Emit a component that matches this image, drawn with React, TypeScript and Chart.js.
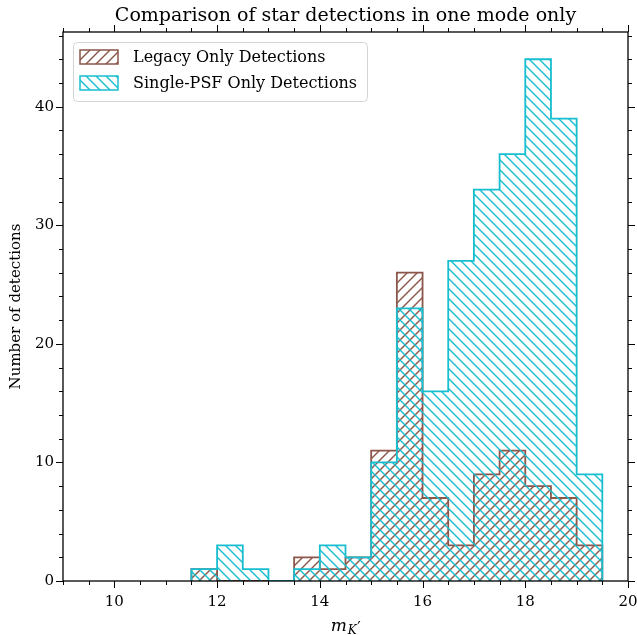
import React, { useEffect, useRef } from "react";
import { Chart, registerables } from "chart.js";

Chart.register(...registerables);

// ---- data ----
const binEdges = [11.5, 12, 12.5, 13, 13.5, 14, 14.5, 15, 15.5, 16, 16.5, 17, 17.5, 18, 18.5, 19, 19.5];
const legacyCounts = [1, 0, 0, 0, 2, 1, 2, 11, 26, 7, 3, 9, 11, 8, 7, 3];
const singlePsfCounts = [1, 3, 1, 0, 1, 3, 2, 10, 23, 16, 27, 33, 36, 44, 39, 9];
const seriesLabels = ["Legacy Only Detections", "Single-PSF Only Detections"];
const xTickLabels = [10, 12, 14, 16, 18, 20];
const yTickLabels = [0, 10, 20, 30, 40];
const titleText = "Comparison of star detections in one mode only";
const yAxisTitle = "Number of detections";
const xAxisMain = "m";
const xAxisSub = "K";
const xAxisPrime = "\u2032";

const BROWN = "#8c564b";
const CYAN = "#17becf";
const FONT = '"DejaVu Serif", "Liberation Serif", serif';

function stepPoints(edges: number[], counts: number[]) {
  const pts: { x: number; y: number }[] = [{ x: edges[0], y: 0 }];
  counts.forEach((c, i) => pts.push({ x: edges[i], y: c }));
  pts.push({ x: edges[edges.length - 1], y: 0 });
  return pts;
}

function makeHatch(color: string, rising: boolean): CanvasPattern | string {
  const s = 10;
  const c = document.createElement("canvas");
  c.width = s;
  c.height = s;
  const g = c.getContext("2d");
  if (!g) return color;
  g.strokeStyle = color;
  g.lineWidth = 1.4;
  g.lineCap = "square";
  const seg = (x1: number, y1: number, x2: number, y2: number) => {
    g.beginPath();
    g.moveTo(x1, y1);
    g.lineTo(x2, y2);
    g.stroke();
  };
  if (rising) {
    seg(-1, s + 1, s + 1, -1);
    seg(-1, 1, 1, -1);
    seg(s - 1, s + 1, s + 1, s - 1);
  } else {
    seg(-1, -1, s + 1, s + 1);
    seg(-1, s - 1, 1, s + 1);
    seg(s - 1, -1, s + 1, 1);
  }
  const p = g.createPattern(c, "repeat");
  return p || color;
}

const framePlugin = {
  id: "frameTicks",
  afterDraw(chart: any) {
    const { ctx, chartArea: a, scales } = chart;
    const xs = scales.x;
    const ys = scales.y;
    ctx.save();
    ctx.strokeStyle = "#000";
    ctx.lineWidth = 1;
    const line = (x1: number, y1: number, x2: number, y2: number) => {
      ctx.beginPath();
      ctx.moveTo(x1, y1);
      ctx.lineTo(x2, y2);
      ctx.stroke();
    };
    xs.ticks.forEach((t: any) => {
      const px = Math.round(xs.getPixelForValue(t.value)) + 0.5;
      const major = xTickLabels.includes(t.value);
      const len = major ? 7 : 4;
      line(px, a.bottom, px, a.bottom + len);
      line(px, a.top, px, a.top - len);
    });
    ys.ticks.forEach((t: any) => {
      const py = Math.round(ys.getPixelForValue(t.value)) + 0.5;
      const major = yTickLabels.includes(t.value);
      const len = major ? 7 : 4;
      line(a.left, py, a.left - len, py);
      line(a.right, py, a.right + len, py);
    });
    ctx.lineWidth = 1.3;
    ctx.strokeRect(a.left, a.top, a.right - a.left, a.bottom - a.top);

    // x-axis title m_{K'}
    const cx = (a.left + a.right) / 2;
    ctx.fillStyle = "#000";
    ctx.textBaseline = "alphabetic";
    ctx.textAlign = "left";
    ctx.font = "italic 17px " + FONT;
    const wm = ctx.measureText(xAxisMain).width;
    ctx.font = "italic 12px " + FONT;
    const ws = ctx.measureText(xAxisSub).width;
    ctx.font = '15px "DejaVu Sans", sans-serif';
    const wp = ctx.measureText(xAxisPrime).width;
    const x0 = cx - (wm + ws + wp + 1) / 2;
    ctx.font = "italic 17px " + FONT;
    ctx.fillText(xAxisMain, x0, 631);
    ctx.font = "italic 12px " + FONT;
    ctx.fillText(xAxisSub, x0 + wm + 1, 634);
    ctx.font = '15px "DejaVu Sans", sans-serif';
    ctx.fillText(xAxisPrime, x0 + wm + ws + 1.5, 633);
    ctx.restore();
  },
};

const legendPlugin = {
  id: "hatchLegend",
  afterDatasetsDraw(chart: any) {
    const { ctx, chartArea: a } = chart;
    const x0 = a.left + 10;
    const y0 = a.top + 10;
    const w = 294;
    const h = 59;
    ctx.save();
    ctx.beginPath();
    if (ctx.roundRect) ctx.roundRect(x0 + 0.5, y0 + 0.5, w, h, 4);
    else ctx.rect(x0 + 0.5, y0 + 0.5, w, h);
    ctx.fillStyle = "rgba(255,255,255,0.8)";
    ctx.fill();
    ctx.strokeStyle = "#d4d4d4";
    ctx.lineWidth = 1;
    ctx.stroke();
    chart.data.datasets.forEach((ds: any, i: number) => {
      const sy = y0 + 8 + i * 26;
      ctx.fillStyle = ds.backgroundColor;
      ctx.fillRect(x0 + 7, sy, 38, 14);
      ctx.strokeStyle = ds.borderColor;
      ctx.lineWidth = 1.5;
      ctx.strokeRect(x0 + 7, sy, 38, 14);
      ctx.fillStyle = "#000";
      ctx.font = "16px " + FONT;
      ctx.textBaseline = "middle";
      ctx.textAlign = "left";
      ctx.fillText(ds.label, x0 + 60, sy + 7.5);
    });
    ctx.restore();
  },
};

export default function App() {
  const ref = useRef<HTMLCanvasElement | null>(null);

  useEffect(() => {
    const canvas = ref.current;
    if (!canvas) return;
    const brownHatch = makeHatch(BROWN, true);
    const cyanHatch = makeHatch(CYAN, false);

    const chart = new Chart(canvas, {
      type: "line",
      data: {
        datasets: [
          {
            label: seriesLabels[0],
            data: stepPoints(binEdges, legacyCounts),
            stepped: "before",
            borderColor: BROWN,
            backgroundColor: brownHatch as any,
            borderWidth: 1.8,
            pointRadius: 0,
            fill: "origin",
            order: 2,
          },
          {
            label: seriesLabels[1],
            data: stepPoints(binEdges, singlePsfCounts),
            stepped: "before",
            borderColor: CYAN,
            backgroundColor: cyanHatch as any,
            borderWidth: 1.8,
            pointRadius: 0,
            fill: "origin",
            order: 1,
          },
        ],
      },
      options: {
        responsive: false,
        animation: false,
        devicePixelRatio: 1,
        layout: { padding: { left: 0, right: 0, top: 0, bottom: 0 } },
        plugins: {
          legend: { display: false },
          tooltip: { enabled: false },
          title: {
            display: true,
            text: titleText,
            fullSize: false,
            color: "#000",
            font: { family: FONT, size: 19, weight: "normal", lineHeight: 1.2 },
            padding: { top: 5, bottom: 4.2 },
          },
        },
        scales: {
          x: {
            type: "linear",
            min: 9,
            max: 20,
            grid: { display: false, drawTicks: false },
            border: { display: false },
            ticks: {
              stepSize: 0.5,
              autoSkip: false,
              maxRotation: 0,
              padding: 12,
              color: "#000",
              font: { family: FONT, size: 15 },
              callback: (v: any) => (xTickLabels.includes(Number(v)) ? String(v) : ""),
            },
            afterFit: (s: any) => {
              s.height = 54;
              s.paddingRight = 9;
              s.paddingLeft = 0;
            },
          },
          y: {
            type: "linear",
            min: 0,
            max: 46.3,
            grid: { display: false, drawTicks: false },
            border: { display: false },
            ticks: {
              stepSize: 2,
              includeBounds: false,
              autoSkip: false,
              padding: 9,
              color: "#000",
              font: { family: FONT, size: 15 },
              callback: (v: any) => (yTickLabels.includes(Number(v)) ? String(v) : ""),
            },
            title: {
              display: true,
              text: yAxisTitle,
              color: "#000",
              font: { family: FONT, size: 15, lineHeight: 1.2 },
              padding: { top: 7, bottom: 0 },
            },
            afterFit: (s: any) => {
              s.width = 63;
              s.paddingTop = 0;
              s.paddingBottom = 0;
            },
          },
        },
      },
      plugins: [legendPlugin, framePlugin],
    });
    return () => chart.destroy();
  }, []);

  return (
    <div style={{ position: "absolute", left: 0, top: 0, width: 637, height: 635, background: "#fff" }}>
      <canvas ref={ref} width={637} height={635} />
    </div>
  );
}
